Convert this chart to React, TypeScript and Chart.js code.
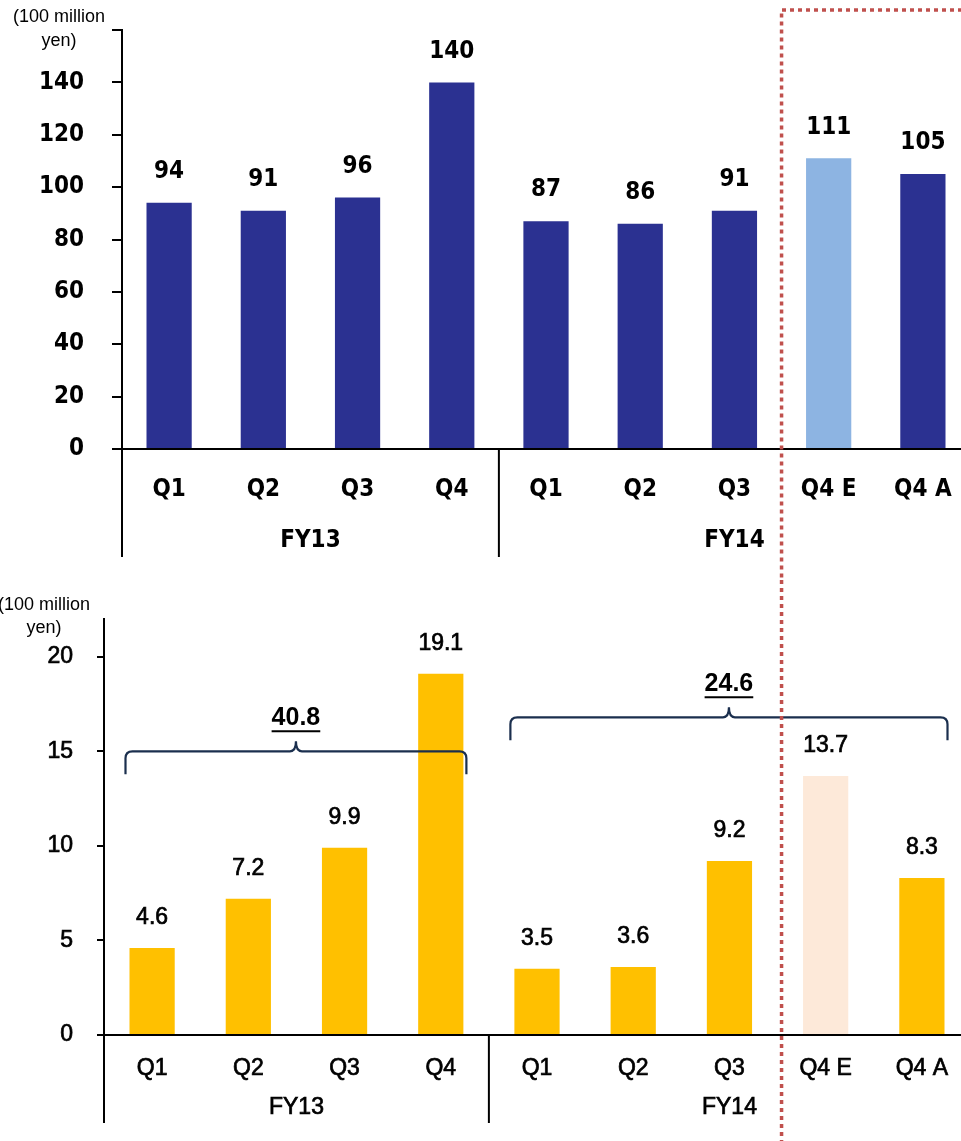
import React, { useEffect, useRef } from 'react';
import { Chart, registerables } from 'chart.js';
Chart.register(...registerables);

// ---- data ----
const quarterLabels = ['Q1', 'Q2', 'Q3', 'Q4', 'Q1', 'Q2', 'Q3', 'Q4 E', 'Q4 A'];
const groupLabels = ['FY13', 'FY14'];
const groupStart = [0, 4];
const groupEnd = [3, 8];
const salesValues = [94, 91, 96, 140, 87, 86, 91, 111, 105];
const profitValues = [4.6, 7.2, 9.9, 19.1, 3.5, 3.6, 9.2, 13.7, 8.3];
const profitTotals = [40.8, 24.6];
const profitBraceLevels = [15.0, 16.8];
const estimateIndex = 7;
const unitLines = ['(100 million', 'yen)'];
const salesAxisMax = 160;
const salesStep = 20;
const profitAxisMax = 22;
const profitStep = 5;

const W = 970;
const TOP_H = 580;
const BOT_H = 561;
const TOP_FONT = "'DejaVu Sans Condensed', 'DejaVu Sans', Verdana, sans-serif";
const BOT_FONT = "'Liberation Sans', Arial, sans-serif";
const BOT_STROKE = 0.7;

let dividerX = 0;

function valueLabels(font: string, offset: number, fmt: (v: number) => string, stroke = 0) {
  return {
    id: 'valueLabels',
    afterDatasetsDraw(chart: any) {
      const ctx = chart.ctx;
      const meta = chart.getDatasetMeta(0);
      const data = chart.data.datasets[0].data as number[];
      ctx.save();
      ctx.font = font;
      ctx.fillStyle = '#000';
      ctx.strokeStyle = '#000';
      ctx.lineWidth = stroke;
      ctx.textAlign = 'center';
      ctx.textBaseline = 'middle';
      meta.data.forEach((bar: any, i: number) => {
        const t = fmt(data[i]);
        ctx.fillText(t, bar.x, bar.y - offset);
        if (stroke) ctx.strokeText(t, bar.x, bar.y - offset);
      });
      ctx.restore();
    },
  };
}

function groupAxis(font: string, labelY: number, lineBottom: number, stroke = 0) {
  return {
    id: 'groupAxis',
    afterDraw(chart: any) {
      const ctx = chart.ctx;
      const x = chart.scales.x;
      const step = x.getPixelForValue(1) - x.getPixelForValue(0);
      const base = chart.chartArea.bottom;
      ctx.save();
      ctx.strokeStyle = '#000';
      ctx.font = font;
      ctx.fillStyle = '#000';
      ctx.textAlign = 'center';
      ctx.textBaseline = 'middle';
      groupLabels.forEach((lab, g) => {
        const l = x.getPixelForValue(groupStart[g]) - step / 2;
        const r = x.getPixelForValue(groupEnd[g]) + step / 2;
        ctx.lineWidth = 2;
        ctx.beginPath();
        ctx.moveTo(l, base);
        ctx.lineTo(l, lineBottom);
        ctx.stroke();
        ctx.fillText(lab, (l + r) / 2, labelY);
        if (stroke) {
          ctx.lineWidth = stroke;
          ctx.strokeText(lab, (l + r) / 2, labelY);
        }
      });
      ctx.restore();
    },
  };
}

function unitLabel(font: string, cx: number, y1: number, y2: number) {
  return {
    id: 'unitLabel',
    afterDraw(chart: any) {
      const ctx = chart.ctx;
      ctx.save();
      ctx.font = font;
      ctx.fillStyle = '#000';
      ctx.textAlign = 'center';
      ctx.textBaseline = 'middle';
      ctx.fillText(unitLines[0], cx, y1);
      ctx.fillText(unitLines[1], cx, y2);
      ctx.restore();
    },
  };
}

function dividerLine(isTop: boolean) {
  return {
    id: 'dividerLine',
    afterDraw(chart: any) {
      const ctx = chart.ctx;
      const x = chart.scales.x;
      let dx: number;
      if (isTop) {
        dx = (x.getPixelForValue(estimateIndex - 1) + x.getPixelForValue(estimateIndex)) / 2;
        dividerX = dx;
      } else {
        dx = dividerX || (x.getPixelForValue(estimateIndex - 1) + x.getPixelForValue(estimateIndex)) / 2;
      }
      ctx.save();
      ctx.strokeStyle = '#C0504D';
      ctx.lineWidth = 3.5;
      ctx.setLineDash([4, 4]);
      ctx.beginPath();
      if (isTop) {
        ctx.moveTo(chart.width, 10);
        ctx.lineTo(dx, 10);
        ctx.lineTo(dx, chart.height);
      } else {
        ctx.moveTo(dx, 0);
        ctx.lineTo(dx, chart.height);
      }
      ctx.stroke();
      ctx.restore();
    },
  };
}

const braces = {
  id: 'braces',
  afterDatasetsDraw(chart: any) {
    const ctx = chart.ctx;
    const meta = chart.getDatasetMeta(0);
    const y = chart.scales.y;
    ctx.save();
    groupLabels.forEach((_, g) => {
      const first = meta.data[groupStart[g]] as any;
      const last = meta.data[groupEnd[g]] as any;
      const x0 = first.x - first.width / 2 - 4;
      const x1 = last.x + last.width / 2 + 3;
      const xm = (x0 + x1) / 2;
      const yb = y.getPixelForValue(profitBraceLevels[g]);
      const drop = 23;
      const r = 7;
      ctx.strokeStyle = '#1B2F4E';
      ctx.lineWidth = 2.2;
      ctx.beginPath();
      ctx.moveTo(x0, yb + drop);
      ctx.lineTo(x0, yb + r);
      ctx.quadraticCurveTo(x0, yb, x0 + r, yb);
      ctx.lineTo(xm - 6, yb);
      ctx.quadraticCurveTo(xm, yb, xm, yb - 10);
      ctx.quadraticCurveTo(xm, yb, xm + 6, yb);
      ctx.lineTo(x1 - r, yb);
      ctx.quadraticCurveTo(x1, yb, x1, yb + r);
      ctx.lineTo(x1, yb + drop);
      ctx.stroke();
      // label
      const txt = profitTotals[g].toFixed(1);
      ctx.font = `bold 25px ${BOT_FONT}`;
      ctx.fillStyle = '#000';
      ctx.textAlign = 'center';
      ctx.textBaseline = 'middle';
      const ly = yb - 33;
      ctx.fillText(txt, xm, ly);
      const w = ctx.measureText(txt).width;
      ctx.strokeStyle = '#000';
      ctx.lineWidth = 2;
      ctx.beginPath();
      ctx.moveTo(xm - w / 2, ly + 13);
      ctx.lineTo(xm + w / 2, ly + 13);
      ctx.stroke();
    });
    ctx.restore();
  },
};

const noHorizontalPadding = (s: any) => {
  s.paddingLeft = 0;
  s.paddingRight = 0;
};

export default function App() {
  const topRef = useRef<HTMLCanvasElement>(null);
  const botRef = useRef<HTMLCanvasElement>(null);

  useEffect(() => {
    document.body.style.overflow = 'hidden';
    const topFont = { family: TOP_FONT, size: 24, weight: 'bold' as const };
    const botFont = { family: BOT_FONT, size: 23, weight: 'normal' as const };

    const top = new Chart(topRef.current!, {
      type: 'bar',
      data: {
        labels: quarterLabels,
        datasets: [
          {
            data: salesValues,
            backgroundColor: salesValues.map((_, i) => (i === estimateIndex ? '#8DB4E2' : '#2B3191')),
            barPercentage: 0.48,
            categoryPercentage: 1,
          },
        ],
      },
      options: {
        responsive: false,
        animation: false,
        devicePixelRatio: 1,
        layout: { padding: { top: 30, left: 0, right: 0, bottom: 0 } },
        plugins: { legend: { display: false }, tooltip: { enabled: false } },
        scales: {
          x: {
            offset: true,
            grid: { display: false, drawTicks: false },
            border: { display: true, color: '#000', width: 2 },
            ticks: { font: topFont, color: '#000', padding: 26, maxRotation: 0, autoSkip: false },
            afterFit: (s: any) => {
              s.height = TOP_H - 449;
              noHorizontalPadding(s);
            },
          },
          y: {
            min: 0,
            max: salesAxisMax,
            grid: { drawOnChartArea: false, drawTicks: true, tickLength: 10, color: '#000', lineWidth: 2 },
            border: { display: true, color: '#000', width: 2 },
            ticks: {
              stepSize: salesStep,
              font: topFont,
              color: '#000',
              padding: 28,
              callback: (v: any) => (v === salesAxisMax ? '' : String(v)),
            },
            afterFit: (s: any) => {
              s.width = 122;
              s.paddingTop = 0;
              s.paddingBottom = 0;
            },
          },
        },
      },
      plugins: [
        valueLabels(`bold 24px ${TOP_FONT}`, 31, (v) => String(v)),
        groupAxis(`bold 24px ${TOP_FONT}`, 541, 557),
        unitLabel(`18px ${BOT_FONT}`, 59, 17, 41),
        dividerLine(true),
      ],
    });

    const bot = new Chart(botRef.current!, {
      type: 'bar',
      data: {
        labels: quarterLabels,
        datasets: [
          {
            data: profitValues,
            backgroundColor: profitValues.map((_, i) => (i === estimateIndex ? '#FDE9D9' : '#FFC000')),
            barPercentage: 0.47,
            categoryPercentage: 1,
          },
        ],
      },
      options: {
        responsive: false,
        animation: false,
        devicePixelRatio: 1,
        layout: { padding: { top: 39, left: 0, right: 0, bottom: 0 } },
        plugins: { legend: { display: false }, tooltip: { enabled: false } },
        scales: {
          x: {
            offset: true,
            grid: { display: false, drawTicks: false },
            border: { display: true, color: '#000', width: 2 },
            ticks: {
              font: botFont,
              color: '#000',
              padding: 20,
              maxRotation: 0,
              autoSkip: false,
              textStrokeWidth: BOT_STROKE,
              textStrokeColor: '#000',
            },
            afterFit: (s: any) => {
              s.height = BOT_H - 455;
              noHorizontalPadding(s);
            },
          },
          y: {
            min: 0,
            max: profitAxisMax,
            grid: { drawOnChartArea: false, drawTicks: true, tickLength: 7, color: '#000', lineWidth: 2 },
            border: { display: true, color: '#000', width: 2 },
            ticks: {
              stepSize: profitStep,
              font: botFont,
              color: '#000',
              padding: 24,
              textStrokeWidth: BOT_STROKE,
              textStrokeColor: '#000',
            },
            afterBuildTicks: (s: any) => {
              s.ticks = s.ticks.filter((t: any) => t.value % profitStep === 0);
            },
            afterFit: (s: any) => {
              s.width = 104;
              s.paddingTop = 0;
              s.paddingBottom = 0;
            },
          },
        },
      },
      plugins: [
        valueLabels(`23px ${BOT_FONT}`, 30, (v) => v.toFixed(1), BOT_STROKE),
        groupAxis(`23px ${BOT_FONT}`, 528, 543, BOT_STROKE),
        unitLabel(`18px ${BOT_FONT}`, 44, 25, 48),
        braces,
        dividerLine(false),
      ],
    });

    return () => {
      top.destroy();
      bot.destroy();
    };
  }, []);

  return (
    <div style={{ position: 'absolute', left: 0, top: 0, width: W, height: TOP_H + BOT_H, overflow: 'hidden' }}>
      <canvas ref={topRef} width={W} height={TOP_H} style={{ display: 'block' }} />
      <canvas ref={botRef} width={W} height={BOT_H} style={{ display: 'block' }} />
    </div>
  );
}
